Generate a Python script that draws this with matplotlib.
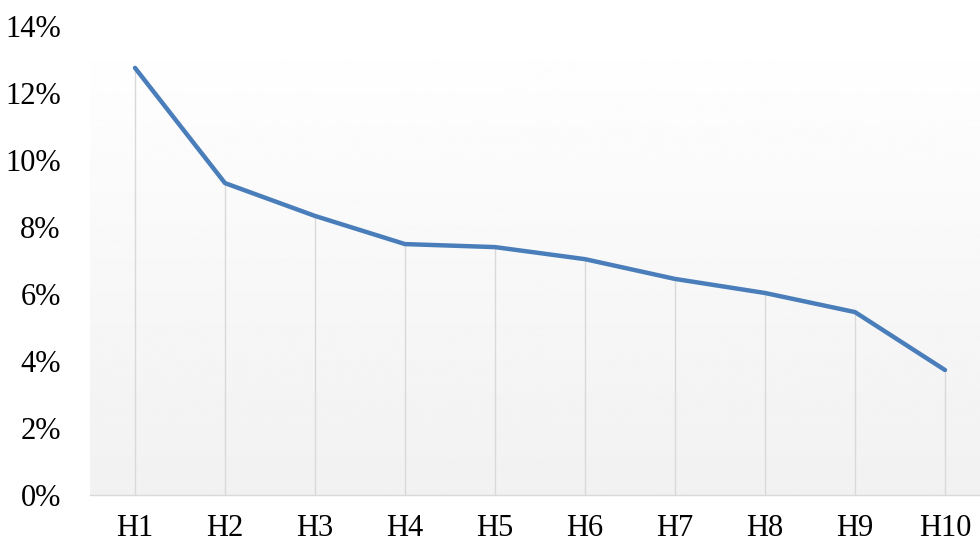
import numpy as np
import matplotlib.pyplot as plt
from matplotlib.ticker import FuncFormatter

labels = ['H1', 'H2', 'H3', 'H4', 'H5', 'H6', 'H7', 'H8', 'H9', 'H10']
values = [12.75, 9.31, 8.33, 7.49, 7.40, 7.04, 6.45, 6.03, 5.46, 3.73]

plt.rcParams['font.family'] = ['Liberation Serif', 'DejaVu Serif']

fig = plt.figure(figsize=(9.8, 5.43), dpi=100)
ax = fig.add_axes([90 / 980, 48 / 543, 900 / 980, 469 / 543])

x = np.arange(len(labels))

# background gradient white (top) -> light gray (bottom)
grad = np.linspace(1.0, 0.945, 256).reshape(-1, 1)
ax.imshow(grad, cmap='gray', vmin=0, vmax=1, aspect='auto',
          extent=(-0.5, 9.5, 0, 14), zorder=0)

ax.vlines(x, 0, values, color='#d9d9d9', linewidth=1.0, zorder=1)
ax.plot(x, values, color='#4a7ebb', linewidth=3.2, solid_capstyle='round',
        solid_joinstyle='round', zorder=3)

ax.set_xlim(-0.5, 9.5)
ax.set_ylim(0, 14)
ax.set_yticks(np.arange(0, 15, 2))
ax.yaxis.set_major_formatter(FuncFormatter(lambda v, p: f'{v:.0f}%'))
ax.set_xticks(x)
ax.set_xticklabels(labels)

for s in ['top', 'right', 'left']:
    ax.spines[s].set_visible(False)
ax.spines['bottom'].set_color('#d9d9d9')
ax.spines['bottom'].set_linewidth(1.0)
ax.tick_params(axis='both', length=0, labelsize=22, colors='black')
ax.tick_params(axis='y', pad=21)
ax.tick_params(axis='x', pad=14)

fig.savefig('out.png', dpi=100)
